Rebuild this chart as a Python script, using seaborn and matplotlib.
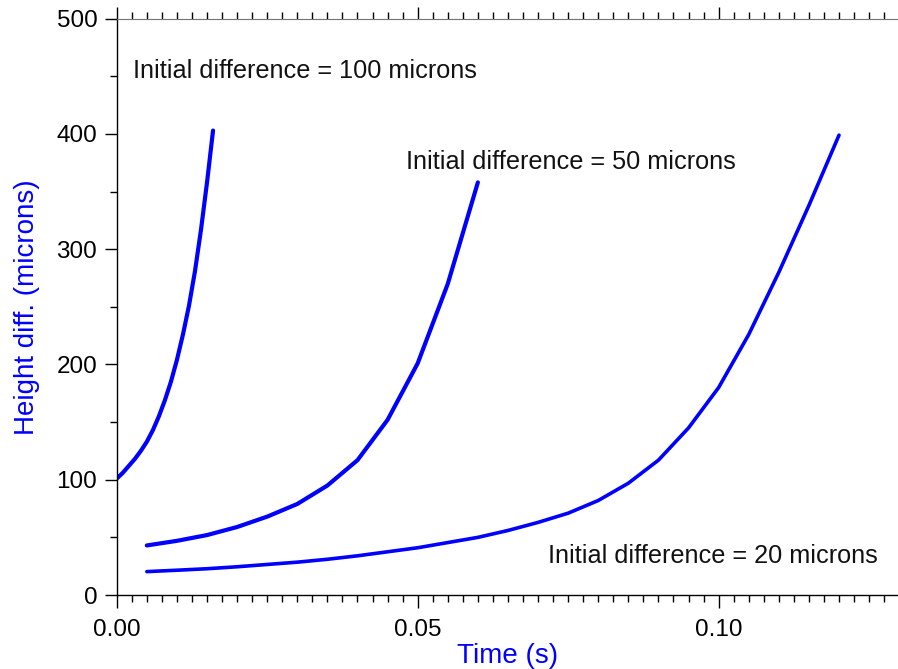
import numpy as np
import pandas as pd
import seaborn as sns
import matplotlib.pyplot as plt
from matplotlib.ticker import MultipleLocator, FormatStrFormatter

# values (time in s, height difference in microns)
t_100 = [0.0, 0.001, 0.002, 0.003, 0.004, 0.005, 0.006, 0.007, 0.008,
         0.009, 0.010, 0.011, 0.012, 0.013, 0.014, 0.015, 0.016]
h_100 = [101, 106, 112, 118, 125, 133, 143, 155, 169,
         185, 204, 226, 251, 281, 317, 358, 403]

t_50 = [0.005, 0.010, 0.015, 0.020, 0.025, 0.030, 0.035, 0.040, 0.045, 0.050, 0.055, 0.060]
h_50 = [43, 47, 52, 59, 68, 79, 95, 117, 152, 201, 270, 358]

t_20 = [0.005, 0.010, 0.015, 0.020, 0.025, 0.030, 0.035, 0.040, 0.045, 0.050, 0.055, 0.060,
        0.065, 0.070, 0.075, 0.080, 0.085, 0.090, 0.095, 0.100, 0.105, 0.110, 0.115, 0.120]
h_20 = [20.3, 21.5, 22.8, 24.5, 26.5, 28.5, 31, 34, 37.5, 41, 45.5, 50,
        56, 63, 71, 82, 97, 117, 145, 180, 226, 280, 338, 399]

labels = ["Initial difference = 100 microns",
          "Initial difference = 50 microns",
          "Initial difference = 20 microns"]
label_pos = [(0.0027, 455), (0.0481, 376), (0.0716, 34)]

sns.set_style("ticks")
plt.rcParams["font.family"] = ["Liberation Sans", "DejaVu Sans"]

fig = plt.figure(figsize=(8.98, 6.69), dpi=100)
ax = fig.add_axes([0.13, 0.1106, 0.87, 0.8614])

for t, h, lw in [(t_100, h_100, 3.0), (t_50, h_50, 3.0), (t_20, h_20, 2.6)]:
    df = pd.DataFrame({"t": t, "h": h})
    sns.lineplot(data=df, x="t", y="h", ax=ax, color="#0000ff", linewidth=lw,
                 sort=False, estimator=None)

for txt, (x, y) in zip(labels, label_pos):
    ax.text(x, y, txt, fontsize=18.2, color="#111111", va="center", ha="left")

ax.set_xlim(0, 0.1298)
ax.set_ylim(0, 500)
ax.xaxis.set_major_locator(MultipleLocator(0.05))
ax.xaxis.set_minor_locator(MultipleLocator(0.0025))
ax.xaxis.set_major_formatter(FormatStrFormatter("%.2f"))
ax.yaxis.set_major_locator(MultipleLocator(100))
ax.yaxis.set_minor_locator(MultipleLocator(50))

ax.spines["right"].set_visible(False)
ax.spines["top"].set_color("0.45")
for s in ["left", "bottom"]:
    ax.spines[s].set_color("black")
    ax.spines[s].set_linewidth(1.0)

ax.tick_params(which="both", direction="out", top=True, labeltop=False,
               right=False, labelsize=17.5, colors="black")
ax.tick_params(which="major", length=9, width=1, pad=5)
ax.tick_params(which="minor", length=5, width=1)
ax.tick_params(axis="x", which="major", pad=8)

ax.set_xlabel("Time (s)", fontsize=20, color="#0000ff", labelpad=2)
ax.set_ylabel("Height diff. (microns)", fontsize=20, color="#0000ff", labelpad=12)

fig.savefig("out.png", dpi=100)
